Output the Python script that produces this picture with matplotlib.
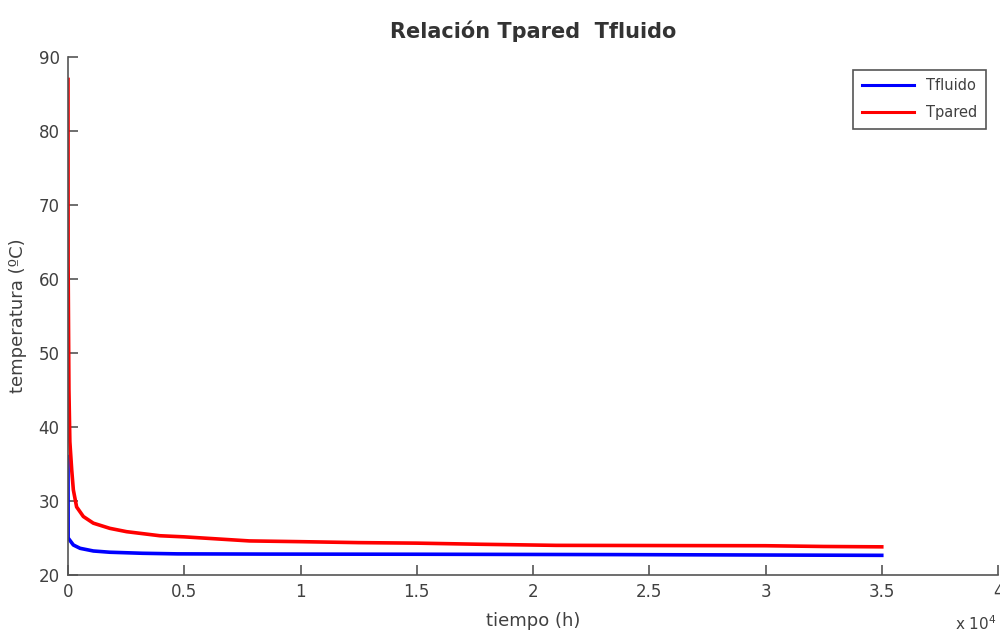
import matplotlib
matplotlib.use('Agg')
import matplotlib.pyplot as plt
from matplotlib.ticker import FuncFormatter

# tiempo en horas (escala x 10^4)
t_pared = [0, 5, 40, 80, 160, 230, 370, 660, 1090, 1800, 2520, 3950, 5000,
           7800, 10000, 12500, 15000, 17700, 21000, 26000, 30000, 32500, 35000]
T_pared = [87, 62, 45, 38, 34.2, 31.5, 29.2, 27.9, 27.0, 26.3, 25.85, 25.3, 25.15,
           24.6, 24.5, 24.37, 24.3, 24.15, 24.0, 23.97, 23.95, 23.85, 23.8]

t_fluido = [0, 5, 230, 520, 1090, 1800, 3200, 4700, 8500, 15000, 23600, 35000]
T_fluido = [36, 25.0, 24.05, 23.6, 23.24, 23.07, 22.93, 22.85, 22.82, 22.8, 22.75, 22.65]

gris = '#404040'
plt.rcParams['font.family'] = ['DejaVu Sans']

fig = plt.figure(figsize=(10, 6.36), dpi=100)
ax = fig.add_axes([0.068, 0.096, 0.930, 0.814])

ax.plot(t_fluido, T_fluido, color='#0000ff', linewidth=2.6, label='Tfluido')
ax.plot(t_pared, T_pared, color='#ff0000', linewidth=2.6, label='Tpared')

ax.set_xlim(0, 40000)
ax.set_ylim(20, 90)
ax.set_xticks([0, 5000, 10000, 15000, 20000, 25000, 30000, 35000, 40000])
ax.set_yticks(range(20, 91, 10))
ax.xaxis.set_major_formatter(FuncFormatter(lambda v, p: f'{v / 1e4:g}'))

for s in ['top', 'right']:
    ax.spines[s].set_visible(False)
for s in ['left', 'bottom']:
    ax.spines[s].set_color('#555555')
    ax.spines[s].set_linewidth(1.2)

ax.tick_params(direction='in', length=7, width=1.2, colors='#555555',
               labelsize=12, labelcolor=gris, pad=6)

ax.set_title('Relación Tpared  Tfluido', fontsize=15, fontweight='bold',
             color='#333333', pad=14)
ax.set_xlabel('tiempo (h)', fontsize=13, color=gris, labelpad=8)
ax.set_ylabel('temperatura (ºC)', fontsize=13, color=gris, labelpad=8)

fig.text(0.955, 0.005, 'x 10$^{4}$', fontsize=11, color=gris, ha='left', va='bottom')

leg = ax.legend(loc='upper right', bbox_to_anchor=(0.995, 0.99), fontsize=10.5,
                fancybox=False, framealpha=1, edgecolor='#555555',
                handlelength=3.6, borderpad=0.6, labelspacing=0.8)
leg.get_frame().set_linewidth(1.2)
for line in leg.get_lines():
    line.set_linewidth(2.2)
for txt in leg.get_texts():
    txt.set_color(gris)

fig.savefig('out.png', dpi=100)
